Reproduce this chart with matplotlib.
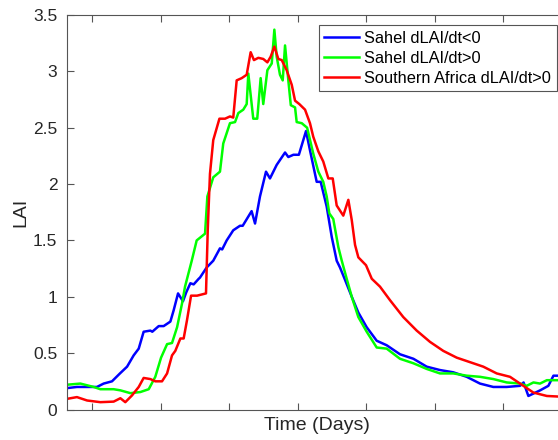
import numpy as np
import matplotlib
matplotlib.use('Agg')
import matplotlib.pyplot as plt

plt.rcParams['font.family'] = ['Liberation Sans', 'DejaVu Sans']

# LAI curves (day, LAI)
sahel_neg_day = [32, 39, 53.6, 58.5, 64.6, 70.4, 75.6, 80.4, 84.1, 87.7, 92.6, 94, 98.7, 102.3,
                 107.2, 109.6, 112.8, 116.4, 118.8, 121.8, 124.2, 127.9, 128.8, 133.7, 138.5,
                 143.4, 145, 148.3, 153.1, 158, 160, 166.5, 169, 172.6, 177, 179.9, 184.8,
                 190.9, 193.3, 197, 201, 206.2, 209.1, 214, 216.9, 221.3, 225, 228.6, 231,
                 234.7, 239.6, 244.4, 250.5, 257.8, 265.1, 274.8, 284.6, 294.3, 304, 313.7,
                 323.5, 333.2, 342.9, 352.7, 362.4, 365, 368.5, 377.1, 383.1, 386.8, 390.3]
sahel_neg_lai = [0.19, 0.20, 0.20, 0.23, 0.25, 0.32, 0.38, 0.48, 0.54, 0.69, 0.70, 0.69, 0.74, 0.74,
                 0.78, 0.88, 1.03, 0.96, 1.04, 1.12, 1.11, 1.16, 1.17, 1.26, 1.32,
                 1.43, 1.42, 1.50, 1.59, 1.63, 1.63, 1.76, 1.65, 1.89, 2.11, 2.05, 2.17,
                 2.28, 2.24, 2.26, 2.26, 2.47, 2.30, 2.02, 2.02, 1.80, 1.53, 1.32, 1.26,
                 1.15, 1.00, 0.86, 0.73, 0.61, 0.57, 0.49, 0.45, 0.38, 0.35, 0.33,
                 0.29, 0.23, 0.20, 0.20, 0.21, 0.24, 0.12, 0.17, 0.21, 0.30, 0.30]

sahel_pos_day = [32, 41.5, 51.2, 56.1, 65.8, 70.7, 78, 85.3, 91.4, 96.2, 100.4, 104.8, 108.4,
                 112.1, 115.7, 117.9, 122.8, 126.4, 132.5, 134.2, 138.5, 143.4, 145.8, 150.7,
                 154.4, 156.8, 160.4, 162.9, 164.1, 167.7, 170.6, 173.1, 175, 178, 181.2,
                 183.1, 184.8, 187.2, 189.2, 190.9, 193.3, 195.1, 198.2, 199.4, 203.1, 207,
                 211.5, 215.2, 218.8, 221.3, 223.2, 226.1, 229.8, 232.3, 235.9, 239.6, 244.4,
                 250.5, 257.8, 265.1, 274.8, 284.6, 294.3, 304, 313.7, 323.5, 333.2, 342.9,
                 352.7, 362.4, 367.3, 372.2, 377, 382, 390.3]
sahel_pos_lai = [0.22, 0.23, 0.20, 0.18, 0.18, 0.17, 0.145, 0.155, 0.18, 0.29, 0.46, 0.58, 0.59,
                 0.73, 0.94, 1.09, 1.32, 1.50, 1.56, 1.89, 2.06, 2.11, 2.36, 2.54,
                 2.55, 2.63, 2.66, 2.71, 2.98, 2.58, 2.58, 2.94, 2.71, 3.01, 3.07,
                 3.37, 3.13, 2.97, 2.92, 3.23, 2.92, 2.70, 2.68, 2.55, 2.54, 2.50,
                 2.27, 2.11, 2.02, 1.89, 1.74, 1.69, 1.44, 1.32, 1.16, 1.00, 0.82,
                 0.69, 0.55, 0.54, 0.45, 0.41, 0.36, 0.32, 0.32, 0.30, 0.29, 0.27,
                 0.24, 0.23, 0.21, 0.24, 0.23, 0.26, 0.26]

safrica_day = [32, 39, 46.4, 56.1, 65.8, 70.7, 74.3, 79.2, 84.1, 87.7, 92.6, 96.2, 101.1, 104.8,
               108.4, 110.8, 114.5, 116.9, 119.3, 122.3, 126.7, 133.2, 134.5, 136.1, 138.5,
               143, 147.1, 150.7, 153.1, 155.6, 159.3, 162.9, 165.8, 168.2, 171.4, 175, 178,
               180.4, 183.1, 186, 188.5, 192.1, 195.8, 198.2, 201.3, 205.5, 209.1, 211.5,
               215.2, 218.8, 222.5, 225.7, 228.6, 233.4, 237.1, 239.6, 242, 244.4, 250,
               254.2, 260.2, 267.5, 277.2, 287, 296.7, 306.4, 316.2, 325.9, 335.6, 345.4,
               355.1, 362.4, 372.2, 382, 390.3]
safrica_lai = [0.095, 0.11, 0.08, 0.065, 0.07, 0.10, 0.065, 0.125, 0.20, 0.28, 0.27, 0.25, 0.25, 0.32,
               0.48, 0.52, 0.63, 0.63, 0.79, 1.01, 1.01, 1.03, 1.60, 2.09, 2.39,
               2.58, 2.58, 2.60, 2.59, 2.92, 2.94, 2.97, 3.17, 3.10, 3.12, 3.11, 3.08,
               3.13, 3.22, 3.11, 3.10, 3.01, 2.88, 2.74, 2.71, 2.66, 2.54, 2.42,
               2.29, 2.20, 2.05, 2.05, 1.81, 1.72, 1.86, 1.68, 1.46, 1.35, 1.28,
               1.16, 1.09, 0.97, 0.82, 0.70, 0.60, 0.52, 0.46, 0.42, 0.38, 0.32,
               0.29, 0.23, 0.15, 0.12, 0.115]

labels = ['Sahel dLAI/dt<0', 'Sahel dLAI/dt>0', 'Southern Africa dLAI/dt>0']
colors = ['#0000ff', '#00ff00', '#ff0000']
txt = '#262626'

fig = plt.figure(figsize=(5.58, 4.40), dpi=100)
ax = fig.add_axes([67/558, 1 - 409.5/440, 500/558, 394.5/440])

ax.plot(sahel_neg_day, sahel_neg_lai, color=colors[0], lw=1.8, label=labels[0])
ax.plot(sahel_pos_day, sahel_pos_lai, color=colors[1], lw=1.8, label=labels[1])
ax.plot(safrica_day, safrica_lai, color=colors[2], lw=1.8, label=labels[2])

ax.set_xlim(31.75, 396.7)
ax.set_ylim(0, 3.5)
ax.set_xticks(np.arange(50, 400, 50))
ax.set_xticklabels([])
ax.set_yticks(np.arange(0, 3.51, 0.5))
ax.set_yticklabels(['0', '0.5', '1', '1.5', '2', '2.5', '3', '3.5'])
ax.tick_params(direction='in', length=5, width=0.8, top=True, right=True,
               labelsize=12.5, colors='#555555', labelcolor=txt, pad=7)
for s in ax.spines.values():
    s.set_color('#555555')
    s.set_linewidth(0.8)

ax.set_xlabel('Time (Days)', fontsize=14, color=txt)
ax.xaxis.set_label_coords(0.5, -0.019)
ax.set_ylabel('LAI', fontsize=14, color=txt)
ax.yaxis.set_label_coords(-0.075, 0.5)

leg = ax.legend(loc='upper right', bbox_to_anchor=(557/558, 1 - 25/440),
                bbox_transform=fig.transFigure, borderaxespad=0, fontsize=11.75,
                handlelength=2.1, handletextpad=0.35, labelspacing=0.3,
                fancybox=False, framealpha=1, borderpad=0.35)
leg.get_frame().set_edgecolor('#555555')
leg.get_frame().set_linewidth(0.8)

fig.savefig('out.png', dpi=100)
